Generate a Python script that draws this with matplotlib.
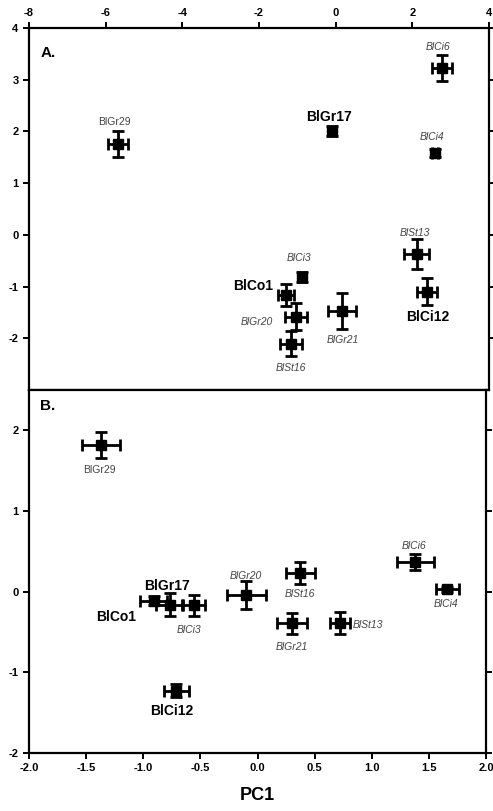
import numpy as np
import matplotlib.pyplot as plt

plt.rcParams["font.family"] = ["Liberation Sans", "DejaVu Sans"]
plt.rcParams["axes.unicode_minus"] = False

# ---- panel A data
a_names = ["BlGr29", "BlCi6", "BlGr17", "BlCi4", "BlSt13", "BlCi3",
           "BlCo1", "BlGr20", "BlSt16", "BlGr21", "BlCi12"]
a_x = [-5.68, 2.77, -0.10, 2.59, 2.11, -0.89, -1.30, -1.03, -1.16, 0.17, 2.38]
a_y = [1.76, 3.23, 2.01, 1.58, -0.36, -0.81, -1.16, -1.58, -2.10, -1.47, -1.10]
a_xerr = [0.25, 0.27, 0.10, 0.08, 0.32, 0.08, 0.20, 0.28, 0.28, 0.37, 0.27]
a_yerr = [0.25, 0.25, 0.10, 0.08, 0.29, 0.10, 0.22, 0.26, 0.24, 0.35, 0.26]

# ---- panel B data
b_names = ["BlGr29", "BlCi6", "BlCi4", "BlSt16", "BlGr20", "BlCo1",
           "BlGr17", "BlCi3", "BlGr21", "BlSt13", "BlCi12"]
b_x = [-1.37, 1.38, 1.66, 0.375, -0.10, -0.91, -0.77, -0.56, 0.30, 0.72, -0.71]
b_y = [1.82, 0.37, 0.03, 0.23, -0.04, -0.11, -0.16, -0.17, -0.39, -0.39, -1.23]
b_xerr = [0.17, 0.16, 0.10, 0.13, 0.17, 0.12, 0.12, 0.10, 0.13, 0.09, 0.11]
b_yerr = [0.16, 0.10, 0.03, 0.14, 0.17, 0.06, 0.14, 0.13, 0.13, 0.14, 0.08]

bold_names = ["BlGr17", "BlCo1", "BlCi12"]

# label offsets in pixels (dx, dy, ha)
a_offsets = {"BlGr29": (-3, 22, "center"), "BlCi6": (-4, 21, "center"),
             "BlGr17": (-3, 14, "center"), "BlCi4": (-3, 16, "center"),
             "BlSt13": (-2, 21, "center"), "BlCi3": (-3, 19, "center"),
             "BlCo1": (-13, 9, "right"), "BlGr20": (-23, -5, "right"),
             "BlSt16": (0, -24, "center"), "BlGr21": (1, -29, "center"),
             "BlCi12": (1, -25, "center")}
b_offsets = {"BlGr29": (-2, -25, "center"), "BlCi6": (-1, 16, "center"),
             "BlCi4": (-1, -15, "center"), "BlSt16": (-1, -21, "center"),
             "BlGr20": (0, 19, "center"), "BlCo1": (-17, -16, "right"),
             "BlGr17": (-3, 19, "center"), "BlCi3": (-5, -25, "center"),
             "BlGr21": (0, -24, "center"), "BlSt13": (13, -2, "left"),
             "BlCi12": (-5, -20, "center")}

fig = plt.figure(figsize=(4.93, 8.11), dpi=100)
ax1 = fig.add_axes([0.0588, 0.519, 0.9332, 0.4465])
ax2 = fig.add_axes([0.0588, 0.0715, 0.9272, 0.4475])


def draw(ax, names, xs, ys, xe, ye, offs):
    ax.errorbar(xs, ys, xerr=xe, yerr=ye, fmt="s", color="black",
                ms=7, elinewidth=2, capsize=4, capthick=2)
    for n, x, y in zip(names, xs, ys):
        dx, dy, ha = offs[n]
        if n in bold_names:
            ax.annotate(n, (x, y), xytext=(dx, dy), textcoords="offset pixels",
                        ha=ha, va="center", fontsize=10, fontweight="bold")
        else:
            ax.annotate(n, (x, y), xytext=(dx, dy), textcoords="offset pixels",
                        ha=ha, va="center", fontsize=7.5, color="#444444",
                        style="normal" if n == "BlGr29" else "italic")
    for s in ax.spines.values():
        s.set_linewidth(1.6)
    ax.tick_params(direction="out", width=1.4, length=4, labelsize=8)


draw(ax1, a_names, a_x, a_y, a_xerr, a_yerr, a_offsets)
ax1.set_xlim(-8, 4)
ax1.set_ylim(-3, 4)
ax1.set_xticks(np.arange(-8, 5, 2))
ax1.set_yticks(np.arange(-2, 5, 1))
ax1.xaxis.tick_top()
ax1.tick_params(right=True, labelright=False, bottom=False)
for lab in ax1.get_xticklabels() + ax1.get_yticklabels():
    lab.set_fontweight("bold")
ax1.text(0.025, 0.93, "A.", transform=ax1.transAxes, fontsize=11,
         fontweight="bold", va="center")

draw(ax2, b_names, b_x, b_y, b_xerr, b_yerr, b_offsets)
ax2.set_xlim(-2, 2)
ax2.set_ylim(-2, 2.5)
ax2.set_xticks(np.arange(-2, 2.01, 0.5))
ax2.set_xticklabels([f"{v:.1f}" for v in np.arange(-2, 2.01, 0.5)])
ax2.set_yticks(np.arange(-2, 3, 1))
ax2.tick_params(right=True, labelright=False, top=False)
for lab in ax2.get_xticklabels() + ax2.get_yticklabels():
    lab.set_fontweight("bold")
ax2.text(0.025, 0.955, "B.", transform=ax2.transAxes, fontsize=11,
         fontweight="bold", va="center")
ax2.set_xlabel("PC1", fontsize=13, fontweight="bold", labelpad=10)

fig.savefig("out.png", dpi=100)
